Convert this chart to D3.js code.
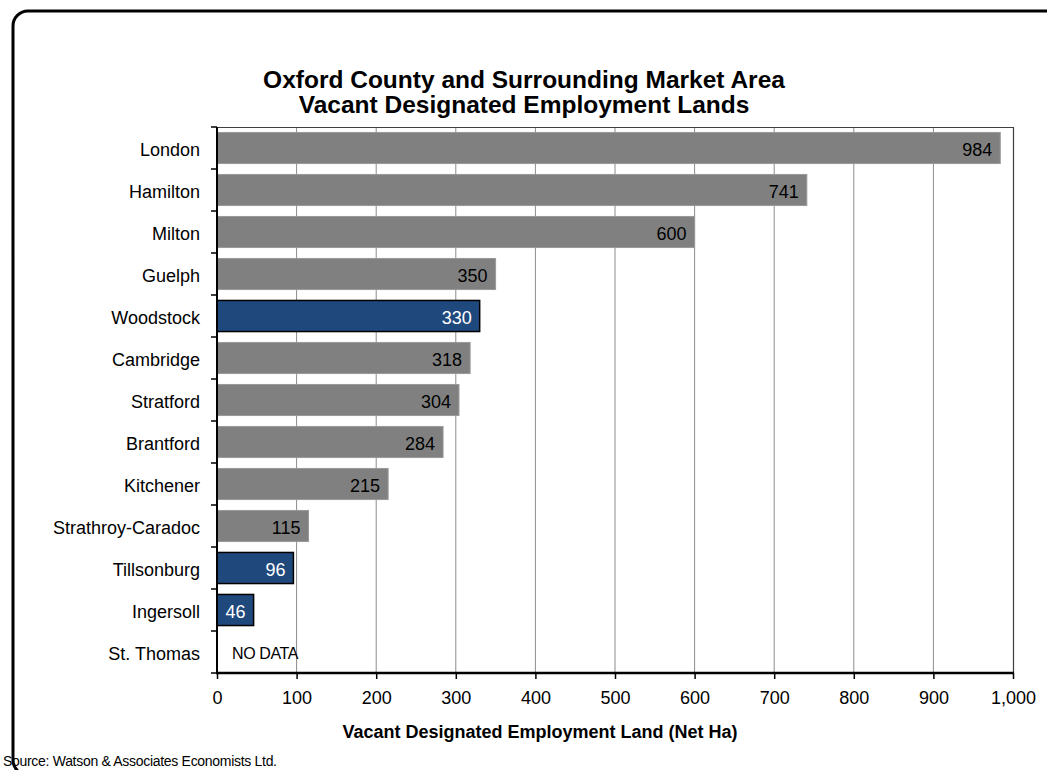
<!DOCTYPE html>
<html>
<head>
<meta charset="utf-8">
<script src="https://cdn.jsdelivr.net/npm/d3@7"></script>
<style>
  html, body { margin: 0; padding: 0; background: #fff; }
  svg { display: block; font-family: "Liberation Sans", Arial, sans-serif; }
</style>
</head>
<body>
<svg id="chart" width="1047" height="770"></svg>
<script>
// Vacant designated employment land by municipality (net hectares)
const municipalities = ["London", "Hamilton", "Milton", "Guelph", "Woodstock", "Cambridge",
  "Stratford", "Brantford", "Kitchener", "Strathroy-Caradoc", "Tillsonburg", "Ingersoll", "St. Thomas"];
const vacantHa = [984, 741, 600, 350, 330, 318, 304, 284, 215, 115, 96, 46, null];
// Oxford County municipalities are highlighted
const oxfordCounty = ["Woodstock", "Tillsonburg", "Ingersoll"];
const xTicks = [0, 100, 200, 300, 400, 500, 600, 700, 800, 900, 1000];

const titleLines = ["Oxford County and Surrounding Market Area", "Vacant Designated Employment Lands"];
const xAxisTitle = "Vacant Designated Employment Land (Net Ha)";
const sourceNote = "Source: Watson & Associates Economists Ltd.";
const noDataLabel = "NO DATA";

const rows = municipalities.map((name, i) => ({ name, value: vacantHa[i], oxford: oxfordCounty.includes(name) }));

const svg = d3.select("#chart");
const plot = { left: 217, right: 1013, top: 127, bottom: 673 };

// outer frame with rounded corners
svg.append("rect")
  .attr("x", 13).attr("y", 11)
  .attr("width", 1100).attr("height", 764)
  .attr("rx", 15).attr("ry", 15)
  .attr("fill", "none").attr("stroke", "#000").attr("stroke-width", 3);

// title
svg.append("g").selectAll("text").data(titleLines).join("text")
  .attr("x", 524).attr("y", (d, i) => 88 + i * 25)
  .attr("text-anchor", "middle")
  .attr("font-size", 24.5).attr("font-weight", "bold").attr("fill", "#000")
  .text(d => d);

const x = d3.scaleLinear().domain([0, 1000]).range([plot.left, plot.right]);
const y = d3.scaleBand().domain(municipalities).range([plot.top, plot.bottom])
  .paddingInner(0.26).paddingOuter(0.13);

// vertical gridlines
svg.append("g").selectAll("line").data(xTicks.filter(t => t > 0 && t < 1000)).join("line")
  .attr("x1", d => x(d)).attr("x2", d => x(d))
  .attr("y1", plot.top).attr("y2", plot.bottom)
  .attr("stroke", "#8c8c8c").attr("stroke-width", 1);

// plot border (top and right)
svg.append("path")
  .attr("d", `M${plot.left},${plot.top + 0.5}H${plot.right + 0.5}V${plot.bottom}`)
  .attr("fill", "none").attr("stroke", "#404040").attr("stroke-width", 1.2);

// bars
svg.append("g").selectAll("rect").data(rows.filter(d => d.value != null)).join("rect")
  .attr("x", x(0))
  .attr("y", d => y(d.name))
  .attr("width", d => x(d.value) - x(0))
  .attr("height", y.bandwidth())
  .attr("fill", d => d.oxford ? "#1f497d" : "#808080")
  .attr("stroke", d => d.oxford ? "#000" : "#9a9a9a")
  .attr("stroke-width", d => d.oxford ? 1.5 : 1);

// value labels at the inside end of each bar
svg.append("g").selectAll("text").data(rows.filter(d => d.value != null)).join("text")
  .attr("x", d => x(d.value) - 8)
  .attr("y", d => y(d.name) + y.bandwidth() / 2)
  .attr("dy", "0.45em")
  .attr("text-anchor", "end")
  .attr("font-size", 18)
  .attr("fill", d => d.oxford ? "#fff" : "#000")
  .text(d => d3.format(",")(d.value));

// missing value note
rows.filter(d => d.value == null).forEach(d => {
  svg.append("text")
    .attr("x", x(0) + 15)
    .attr("y", y(d.name) + y.bandwidth() / 2)
    .attr("dy", "0.45em")
    .attr("font-size", 16).attr("letter-spacing", -0.4)
    .attr("fill", "#000")
    .text(noDataLabel);
});

// category axis
const yAxis = d3.axisLeft(y).tickSize(0).tickPadding(17);
const gy = svg.append("g").attr("transform", `translate(${plot.left},0)`).call(yAxis);
gy.select(".domain").remove();
gy.selectAll("text").attr("font-size", 18).attr("fill", "#000").attr("font-family", null).attr("dy", "0.45em");
// tick marks between categories
const step = y.step();
const boundaries = d3.range(municipalities.length + 1).map(i => plot.top + i * step);
svg.append("g").selectAll("line").data(boundaries).join("line")
  .attr("x1", plot.left - 6).attr("x2", plot.left)
  .attr("y1", d => d).attr("y2", d => d)
  .attr("stroke", "#000").attr("stroke-width", 1.5);
svg.append("line")
  .attr("x1", plot.left).attr("x2", plot.left)
  .attr("y1", plot.top).attr("y2", plot.bottom + 1)
  .attr("stroke", "#000").attr("stroke-width", 2);

// value axis
const xAxis = d3.axisBottom(x).tickValues(xTicks).tickFormat(d3.format(",")).tickSize(6).tickPadding(12);
const gx = svg.append("g").attr("transform", `translate(0,${plot.bottom})`).call(xAxis);
gx.select(".domain").attr("stroke", "#000").attr("stroke-width", 2.5).attr("d", `M${plot.left - 1},0H${plot.right + 1}`);
gx.selectAll(".tick line").attr("stroke", "#000").attr("stroke-width", 1.5);
gx.selectAll(".tick text").attr("font-size", 18).attr("fill", "#000").attr("font-family", null);

// axis title
svg.append("text")
  .attr("x", 540).attr("y", 738)
  .attr("text-anchor", "middle")
  .attr("font-size", 18).attr("font-weight", "bold").attr("fill", "#000")
  .text(xAxisTitle);

// source note
svg.append("text")
  .attr("x", 3).attr("y", 766)
  .attr("font-size", 14).attr("letter-spacing", -0.3).attr("fill", "#000")
  .text(sourceNote);
</script>
</body>
</html>
